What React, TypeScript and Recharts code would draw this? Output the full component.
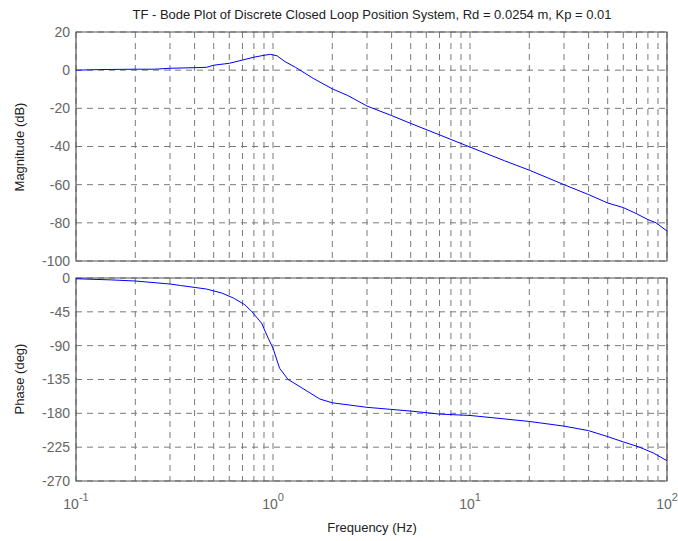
import React from 'react';
import { LineChart, Line, XAxis, YAxis, CartesianGrid, ReferenceArea } from 'recharts';

const magFreq = [0.1, 0.13, 0.2, 0.25, 0.3, 0.4, 0.46, 0.5, 0.6, 0.7, 0.8, 0.9, 0.97, 1.05, 1.15, 1.3, 1.6, 2, 2.4, 3, 4, 5, 7, 10, 15, 20, 30, 40, 50, 60, 70, 80, 88, 100];
const magDb = [0, 0.3, 0.5, 0.5, 1.0, 1.3, 1.5, 2.6, 3.6, 5.3, 6.8, 7.8, 8.3, 7.5, 4.5, 1.5, -4.3, -9.8, -13.3, -18.8, -23.8, -27.9, -33.9, -40.3, -47.5, -52.4, -60, -65.2, -69.6, -72, -75.2, -78.3, -80, -84.3];

const phaseFreq = [0.1, 0.15, 0.2, 0.3, 0.34, 0.46, 0.55, 0.63, 0.72, 0.78, 0.875, 0.945, 1.0, 1.08, 1.19, 1.37, 1.73, 2, 3, 5, 7, 10, 20, 30, 40, 50, 60, 72, 85, 100];
const phaseDeg = [-1, -2.5, -4, -8, -10, -14.7, -20, -26.7, -35.6, -44.6, -60, -80, -93.4, -120, -134.7, -144.6, -161, -166, -172, -177, -181, -182.8, -190.8, -197, -203, -211, -218, -224.7, -232.6, -243];

const freqTicks = [
  0.1, 0.2, 0.3, 0.4, 0.5, 0.6, 0.7, 0.8, 0.9,
  1, 2, 3, 4, 5, 6, 7, 8, 9,
  10, 20, 30, 40, 50, 60, 70, 80, 90, 100,
];
const decades = [0.1, 1, 10, 100];
const magTicks = [-100, -80, -60, -40, -20, 0, 20];
const phaseTicks = [-270, -225, -180, -135, -90, -45, 0];

const magData = magFreq.map((f, i) => ({ f, v: magDb[i] }));
const phaseData = phaseFreq.map((f, i) => ({ f, v: phaseDeg[i] }));

const FONT = '"Liberation Sans", Arial, sans-serif';
const GRID = '#7a7a7a';
const FRAME = '#555';

const FreqTick = (props: any) => {
  const { x, y, payload } = props;
  if (!decades.includes(payload.value)) return null;
  const exp = Math.round(Math.log10(payload.value));
  return (
    <text x={x} y={y + 20} textAnchor="middle" fill="#666" fontSize={14} fontFamily={FONT}>
      10<tspan dy={-8} fontSize={11}>{exp}</tspan>
    </text>
  );
};

const NoTick = () => null;

const App: React.FC = () => (
  <div style={{ position: 'absolute', left: 0, top: 0, width: 678, height: 541, fontFamily: FONT }}>
    <svg style={{ position: 'absolute', left: 0, top: 0 }} width={678} height={541}>
      <text x={372} y={19} textAnchor="middle" fontSize={13} fill="#222" fontFamily={FONT}>
        TF - Bode Plot of Discrete Closed Loop Position System, Rd = 0.0254 m, Kp = 0.01
      </text>
      <text x={24} y={147} textAnchor="middle" fontSize={13} fill="#222" fontFamily={FONT} transform="rotate(-90 24 147)">
        Magnitude (dB)
      </text>
      <text x={24} y={379} textAnchor="middle" fontSize={13} fill="#222" fontFamily={FONT} transform="rotate(-90 24 379)">
        Phase (deg)
      </text>
      <text x={372} y={532} textAnchor="middle" fontSize={13} fill="#222" fontFamily={FONT}>
        Frequency (Hz)
      </text>
    </svg>

    <div style={{ position: 'absolute', left: 0, top: 0 }}>
      <LineChart width={678} height={270} data={magData} margin={{ top: 32, right: 11, bottom: 8, left: 26 }}>
        <CartesianGrid stroke={GRID} strokeDasharray="6 5" />
        <XAxis
          dataKey="f"
          type="number"
          scale="log"
          domain={[0.1, 100]}
          allowDataOverflow
          ticks={freqTicks}
          interval={0}
          tick={<NoTick />}
          tickLine={false}
          axisLine={false}
          height={1}
        />
        <YAxis
          type="number"
          domain={[-100, 20]}
          ticks={magTicks}
          interval={0}
          width={50}
          tickLine={false}
          axisLine={false}
          tickSize={4}
          tickMargin={2}
          tick={{ fill: '#666', fontSize: 14, fontFamily: FONT }}
        />
        <ReferenceArea x1={0.1} x2={100} y1={-100} y2={20} fill="none" stroke={FRAME} strokeWidth={1.2} />
        <Line dataKey="v" type="linear" stroke="#0000ff" strokeWidth={1} dot={false} isAnimationActive={false} />
      </LineChart>
    </div>

    <div style={{ position: 'absolute', left: 0, top: 270 }}>
      <LineChart width={678} height={271} data={phaseData} margin={{ top: 8, right: 11, bottom: 30, left: 26 }}>
        <CartesianGrid stroke={GRID} strokeDasharray="6 5" />
        <XAxis
          dataKey="f"
          type="number"
          scale="log"
          domain={[0.1, 100]}
          allowDataOverflow
          ticks={freqTicks}
          interval={0}
          tick={<FreqTick />}
          tickLine={false}
          axisLine={false}
          height={30}
        />
        <YAxis
          type="number"
          domain={[-270, 0]}
          ticks={phaseTicks}
          interval={0}
          width={50}
          tickLine={false}
          axisLine={false}
          tickSize={4}
          tickMargin={2}
          tick={{ fill: '#666', fontSize: 14, fontFamily: FONT }}
        />
        <ReferenceArea x1={0.1} x2={100} y1={-270} y2={0} fill="none" stroke={FRAME} strokeWidth={1.2} />
        <Line dataKey="v" type="linear" stroke="#0000ff" strokeWidth={1} dot={false} isAnimationActive={false} />
      </LineChart>
    </div>
  </div>
);

export default App;
